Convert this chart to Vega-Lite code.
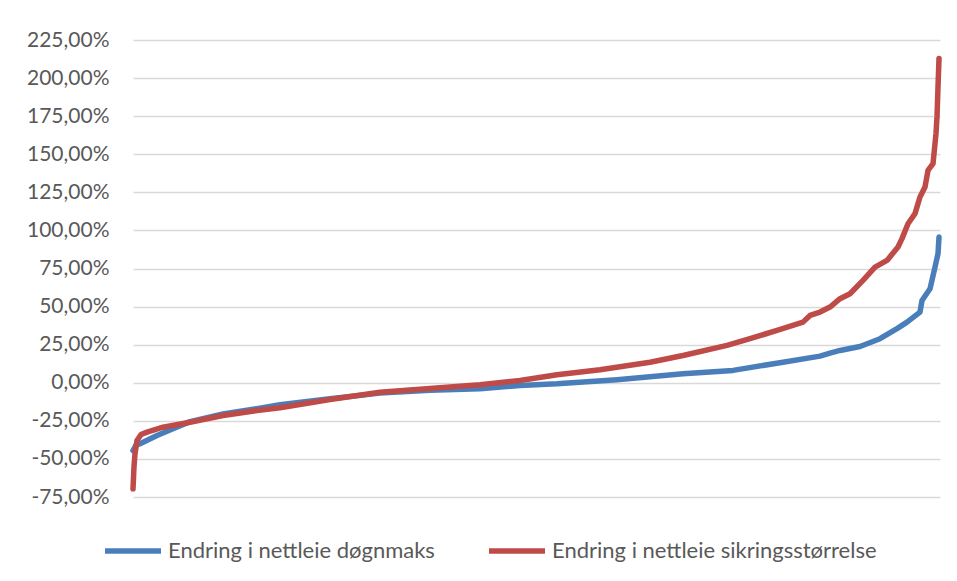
{
  "$schema": "https://vega.github.io/schema/vega-lite/v6.json",
  "width": 807,
  "height": 457,
  "autosize": {"type": "none"},
  "padding": {"left": 133, "top": 40, "right": 17, "bottom": 84},
  "background": "white",
  "config": {
    "view": {"stroke": null},
    "font": "Lato"
  },
  "data": {"values": [
      {"serie": "Endring i nettleie døgnmaks", "idx": 0, "value": -44.5}, {"serie": "Endring i nettleie døgnmaks", "idx": 3, "value": -41}, {"serie": "Endring i nettleie døgnmaks", "idx": 7, "value": -40},
      {"serie": "Endring i nettleie døgnmaks", "idx": 24, "value": -34.6}, {"serie": "Endring i nettleie døgnmaks", "idx": 40, "value": -30.2}, {"serie": "Endring i nettleie døgnmaks", "idx": 57, "value": -25.5},
      {"serie": "Endring i nettleie døgnmaks", "idx": 90, "value": -20.5}, {"serie": "Endring i nettleie døgnmaks", "idx": 124, "value": -17}, {"serie": "Endring i nettleie døgnmaks", "idx": 147, "value": -14.5},
      {"serie": "Endring i nettleie døgnmaks", "idx": 197, "value": -10.5}, {"serie": "Endring i nettleie døgnmaks", "idx": 247, "value": -6.8}, {"serie": "Endring i nettleie døgnmaks", "idx": 297, "value": -5},
      {"serie": "Endring i nettleie døgnmaks", "idx": 347, "value": -3.9}, {"serie": "Endring i nettleie døgnmaks", "idx": 387, "value": -1.8}, {"serie": "Endring i nettleie døgnmaks", "idx": 424, "value": -0.7},
      {"serie": "Endring i nettleie døgnmaks", "idx": 484, "value": 2.0}, {"serie": "Endring i nettleie døgnmaks", "idx": 550, "value": 5.9}, {"serie": "Endring i nettleie døgnmaks", "idx": 600, "value": 8.1},
      {"serie": "Endring i nettleie døgnmaks", "idx": 650, "value": 13.5}, {"serie": "Endring i nettleie døgnmaks", "idx": 687, "value": 17.5}, {"serie": "Endring i nettleie døgnmaks", "idx": 697, "value": 19.5},
      {"serie": "Endring i nettleie døgnmaks", "idx": 707, "value": 21.2}, {"serie": "Endring i nettleie døgnmaks", "idx": 727, "value": 23.8}, {"serie": "Endring i nettleie døgnmaks", "idx": 747, "value": 28.9},
      {"serie": "Endring i nettleie døgnmaks", "idx": 764, "value": 35.5}, {"serie": "Endring i nettleie døgnmaks", "idx": 774, "value": 39.8}, {"serie": "Endring i nettleie døgnmaks", "idx": 787, "value": 46.4},
      {"serie": "Endring i nettleie døgnmaks", "idx": 789, "value": 54}, {"serie": "Endring i nettleie døgnmaks", "idx": 797, "value": 61.7}, {"serie": "Endring i nettleie døgnmaks", "idx": 802, "value": 75.9},
      {"serie": "Endring i nettleie døgnmaks", "idx": 805, "value": 84.7}, {"serie": "Endring i nettleie døgnmaks", "idx": 806, "value": 95.6},
      {"serie": "Endring i nettleie sikringsstørrelse", "idx": 0, "value": -69.6}, {"serie": "Endring i nettleie sikringsstørrelse", "idx": 1, "value": -55}, {"serie": "Endring i nettleie sikringsstørrelse", "idx": 2, "value": -46.6},
      {"serie": "Endring i nettleie sikringsstørrelse", "idx": 4, "value": -37.9}, {"serie": "Endring i nettleie sikringsstørrelse", "idx": 8, "value": -34}, {"serie": "Endring i nettleie sikringsstørrelse", "idx": 14, "value": -32.4},
      {"serie": "Endring i nettleie sikringsstørrelse", "idx": 30, "value": -29.2}, {"serie": "Endring i nettleie sikringsstørrelse", "idx": 57, "value": -25.9}, {"serie": "Endring i nettleie sikringsstørrelse", "idx": 90, "value": -21.5},
      {"serie": "Endring i nettleie sikringsstørrelse", "idx": 124, "value": -18.2}, {"serie": "Endring i nettleie sikringsstørrelse", "idx": 147, "value": -16.4}, {"serie": "Endring i nettleie sikringsstørrelse", "idx": 197, "value": -11},
      {"serie": "Endring i nettleie sikringsstørrelse", "idx": 247, "value": -6.2}, {"serie": "Endring i nettleie sikringsstørrelse", "idx": 297, "value": -3.8}, {"serie": "Endring i nettleie sikringsstørrelse", "idx": 347, "value": -1.3},
      {"serie": "Endring i nettleie sikringsstørrelse", "idx": 387, "value": 1.5}, {"serie": "Endring i nettleie sikringsstørrelse", "idx": 424, "value": 5.3}, {"serie": "Endring i nettleie sikringsstørrelse", "idx": 467, "value": 8.5},
      {"serie": "Endring i nettleie sikringsstørrelse", "idx": 517, "value": 13.5}, {"serie": "Endring i nettleie sikringsstørrelse", "idx": 550, "value": 17.9}, {"serie": "Endring i nettleie sikringsstørrelse", "idx": 594, "value": 24.5},
      {"serie": "Endring i nettleie sikringsstørrelse", "idx": 617, "value": 28.9}, {"serie": "Endring i nettleie sikringsstørrelse", "idx": 644, "value": 34.4}, {"serie": "Endring i nettleie sikringsstørrelse", "idx": 670, "value": 39.8},
      {"serie": "Endring i nettleie sikringsstørrelse", "idx": 677, "value": 44.2}, {"serie": "Endring i nettleie sikringsstørrelse", "idx": 687, "value": 46.4}, {"serie": "Endring i nettleie sikringsstørrelse", "idx": 697, "value": 49.7},
      {"serie": "Endring i nettleie sikringsstørrelse", "idx": 707, "value": 55.2}, {"serie": "Endring i nettleie sikringsstørrelse", "idx": 717, "value": 58.4}, {"serie": "Endring i nettleie sikringsstørrelse", "idx": 730, "value": 67.2},
      {"serie": "Endring i nettleie sikringsstørrelse", "idx": 742, "value": 75.9}, {"serie": "Endring i nettleie sikringsstørrelse", "idx": 754, "value": 80.3}, {"serie": "Endring i nettleie sikringsstørrelse", "idx": 765, "value": 89.1},
      {"serie": "Endring i nettleie sikringsstørrelse", "idx": 769, "value": 94.6}, {"serie": "Endring i nettleie sikringsstørrelse", "idx": 775, "value": 104.4}, {"serie": "Endring i nettleie sikringsstørrelse", "idx": 782, "value": 111},
      {"serie": "Endring i nettleie sikringsstørrelse", "idx": 787, "value": 121.9}, {"serie": "Endring i nettleie sikringsstørrelse", "idx": 792, "value": 128.5}, {"serie": "Endring i nettleie sikringsstørrelse", "idx": 795, "value": 139.4},
      {"serie": "Endring i nettleie sikringsstørrelse", "idx": 800, "value": 143.8}, {"serie": "Endring i nettleie sikringsstørrelse", "idx": 803, "value": 163.6}, {"serie": "Endring i nettleie sikringsstørrelse", "idx": 804, "value": 174.5},
      {"serie": "Endring i nettleie sikringsstørrelse", "idx": 805, "value": 194.2}, {"serie": "Endring i nettleie sikringsstørrelse", "idx": 806, "value": 212.8}
  ]},
  "mark": {"type": "line", "strokeWidth": 5.5, "strokeCap": "round", "strokeJoin": "round"},
  "encoding": {
    "x": {"field": "idx", "type": "quantitative", "axis": null, "scale": {"domain": [0, 807], "nice": false, "zero": false}},
    "y": {"field": "value", "type": "quantitative", "scale": {"domain": [-75, 225], "nice": false},
      "axis": {"title": null, "values": [-75, -50, -25, 0, 25, 50, 75, 100, 125, 150, 175, 200, 225],
        "labelExpr": "(datum.value < 0 ? '-' : '') + replace(format(abs(datum.value), '.2f'), '.', ',') + '%'",
        "labelOverlap": false, "labelBound": false,
        "domain": false, "ticks": false, "gridColor": "#D9D9D9", "gridWidth": 1.3,
        "labelFont": "Lato", "labelFontSize": 21, "labelColor": "#595959", "labelPadding": 24}},
    "color": {"field": "serie", "type": "nominal",
      "scale": {"domain": ["Endring i nettleie døgnmaks", "Endring i nettleie sikringsstørrelse"], "range": ["#4A7EBB", "#BE4B48"]},
      "legend": {"title": null, "orient": "none", "direction": "horizontal", "legendX": -31, "legendY": 480,
        "symbolType": "stroke", "symbolSize": 3136, "symbolStrokeWidth": 5.5,
        "labelFont": "Lato", "labelFontSize": 22, "labelColor": "#595959", "labelOffset": 4, "columnPadding": 43, "labelLimit": 500}}
  }
}
